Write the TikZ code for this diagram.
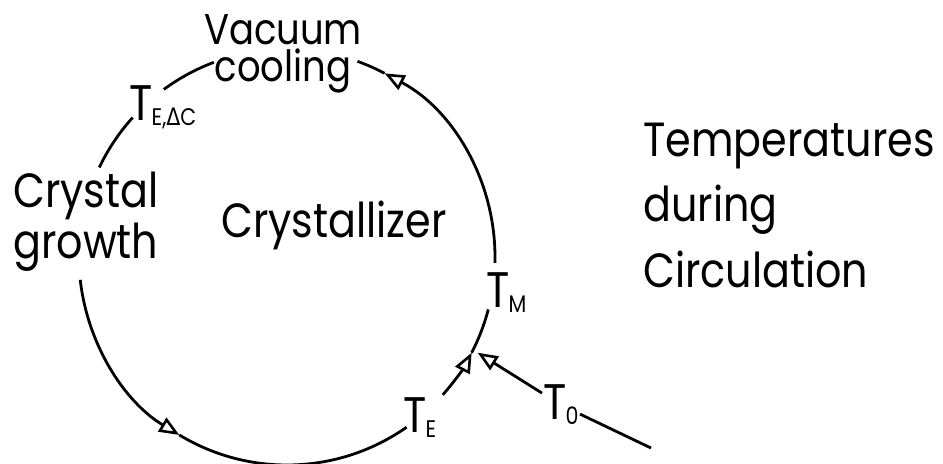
\documentclass[tikz,border=0pt]{standalone}
\usepackage{fontspec}
\setmainfont{Poppins}[FakeStretch=0.86]
\newfontfamily\grkfont{DejaVu Sans}[FakeStretch=0.86]
\usetikzlibrary{arrows.meta,calc}

\newcommand{\lowsub}[1]{\kern-0.5pt\raisebox{-2.5pt}{\fontsize{12}{12}\selectfont #1}}

\begin{document}
\begin{tikzpicture}[x=0.5pt, y=-0.5pt, line width=1.4pt,
    lbl/.style={inner sep=0pt, font=\fontsize{24}{24}\selectfont},
    tlbl/.style={inner sep=0pt, font=\fontsize{25}{25}\selectfont},
    tip/.style={-{Triangle[open, length=10pt, width=8pt, line width=1.3pt]}}]

  \useasboundingbox (0,0) rectangle (943,463);

  \coordinate (c) at (287,257);
  \coordinate (jn) at ($(c)+(27.4:208)$);
  \coordinate (feed) at (651,448);

  % labels (base = baseline of the last line)
  \node[lbl, align=center, anchor=base, font=\fontsize{21.5}{21.5}\selectfont] (vac) at (283,81) {Vacuum\\[-3pt]cooling};
  \node[lbl, align=left, anchor=base west] (grow) at (12,258) {Crystal\\[1.5pt]growth};
  \node[lbl, anchor=base west] (cryst) at (220,237) {Crystallizer};
  \node[lbl, align=left, anchor=base west] (temps) at (642,287)
    {Temperatures\\[7pt]during\\[7pt]Circulation};

  \node[tlbl, anchor=base west] (tm) at (485,307) {T\lowsub{M}};
  \node[tlbl, anchor=base west] (te) at (402,432) {T\lowsub{E}};
  \node[tlbl, anchor=base west] (tedc) at (128,120) {T\lowsub{E,{\grkfont Δ}C}};
  \node[tlbl] (t0) at (561,405) {T\lowsub{0}};

  % circulation loop
  \draw[tip] (c) ++(41.5:208) arc[start angle=41.5, end angle=27.4, radius=208];
  \draw (c) ++(27.4:208) arc[start angle=27.4, end angle=14.6, radius=208];
  \draw[tip] (c) ++(1.6:208) arc[start angle=1.6, end angle=-62, radius=208];
  \draw (c) ++(-62:208) arc[start angle=-62, end angle=-70.2, radius=208];
  \draw (c) ++(-110.6:208) arc[start angle=-110.6, end angle=-126.3, radius=208];
  \draw (c) ++(-137.9:208) arc[start angle=-137.9, end angle=-154.5, radius=208];
  \draw[tip] (c) ++(-186.3:208) arc[start angle=-186.3, end angle=-238.8, radius=208];
  \draw (c) ++(-238.8:208) arc[start angle=-238.8, end angle=-305.1, radius=208];

  % feed
  \draw (feed) -- (t0);
  \draw[tip] (t0) -- ([xshift=3pt]jn);
\end{tikzpicture}
\end{document}
